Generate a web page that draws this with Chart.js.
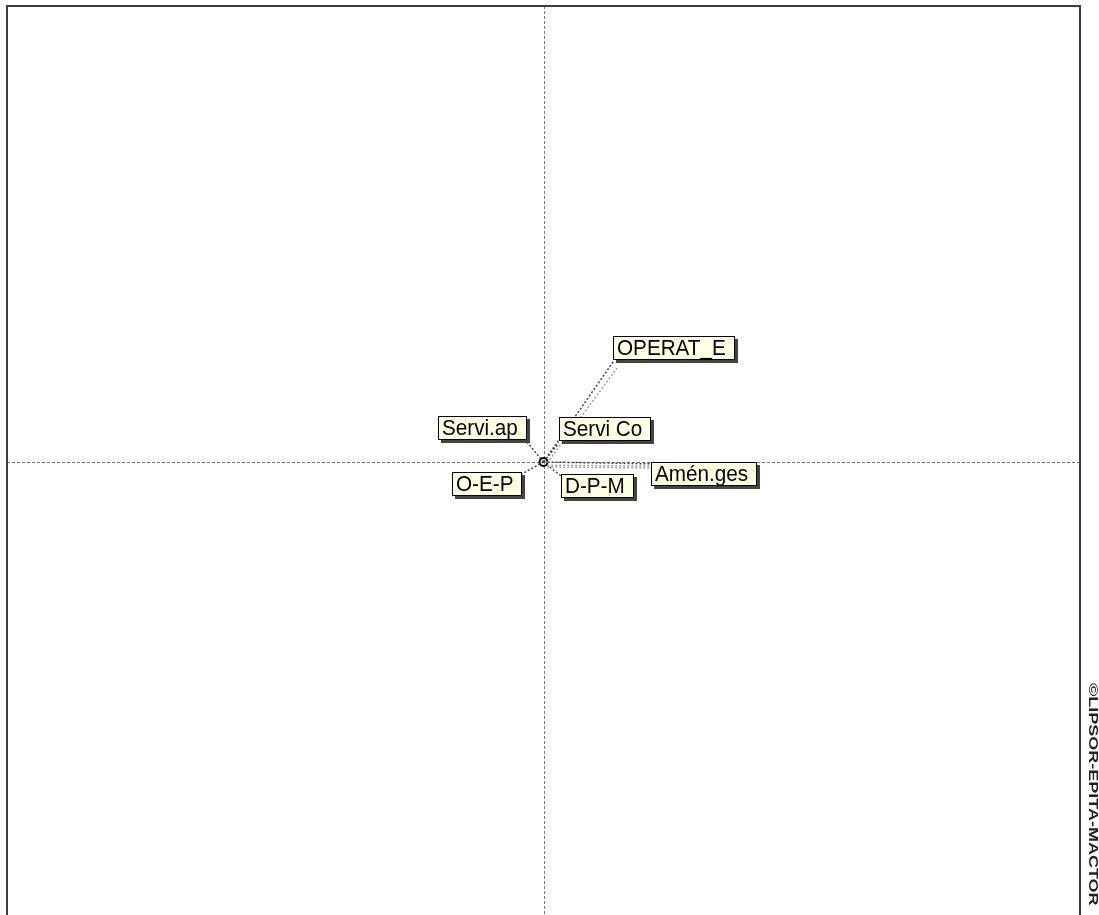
<!DOCTYPE html>
<html>
<head>
<meta charset="utf-8">
<title>Plan des distances entre acteurs</title>
<script src="https://cdn.jsdelivr.net/npm/chart.js@4.4.0/dist/chart.umd.min.js"></script>
<style>
    html, body { margin: 0; padding: 0; background: #fff; overflow: hidden; }
    canvas { display: block; }
</style>
</head>
<body>
<canvas id="mapChart" width="1099" height="930"></canvas>
<script>
// Actors and their coordinates on the map (axes run from -1 to 1)
const actors = ['OPERAT_E', 'Servi.ap', 'Servi Co', 'Amén.ges', 'O-E-P', 'D-P-M'];
const coordX = [0.13, -0.031, 0.029, 0.2, -0.04, 0.033];
const coordY = [0.22, 0.044, 0.042, -0.004, -0.026, -0.031];

// Faint secondary links leaving the centre cluster
const echoStartX = [0.007, 0.007, 0.007];
const echoStartY = [-0.002, -0.007, -0.011];
const echoEndX = [0.137, 0.2, 0.2];
const echoEndY = [0.206, -0.009, -0.013];

const AXIS_MIN = -1;
const AXIS_MAX = 1;
const COPYRIGHT = '\u00A9LIPSOR-EPITA-MACTOR';

const LABEL_FONT = '22px "Liberation Sans", Arial, sans-serif';
const LABEL_SQUEEZE = 0.94;

// Frame, dashed axes and copyright, drawn behind the datasets
const framePlugin = {
    id: 'frame',
    beforeDatasetsDraw(chart) {
        const { ctx, chartArea: a, scales } = chart;
        const x0 = scales.x.getPixelForValue(0);
        const y0 = scales.y.getPixelForValue(0);
        ctx.save();
        ctx.strokeStyle = '#777';
        ctx.lineWidth = 1;
        ctx.setLineDash([3, 2]);
        ctx.beginPath();
        ctx.moveTo(Math.round(x0) + 0.5, a.top);
        ctx.lineTo(Math.round(x0) + 0.5, a.bottom);
        ctx.moveTo(a.left, Math.round(y0) + 0.5);
        ctx.lineTo(a.right, Math.round(y0) + 0.5);
        ctx.stroke();
        ctx.setLineDash([]);
        ctx.strokeStyle = '#3c3c3c';
        ctx.lineWidth = 2;
        ctx.strokeRect(a.left, a.top, a.right - a.left, a.bottom - a.top);

        // vertical copyright in the right margin
        ctx.translate(1092, 683);
        ctx.rotate(Math.PI / 2);
        ctx.scale(1.5, 1);
        ctx.font = 'bold 12px "Liberation Sans", Arial, sans-serif';
        ctx.fillStyle = '#222';
        ctx.textBaseline = 'middle';
        ctx.fillText(COPYRIGHT, 0, 0);
        ctx.restore();
    }
};

// Tooltip-style label boxes placed on the side facing away from the centre
const labelPlugin = {
    id: 'actorLabels',
    afterDatasetsDraw(chart) {
        const { ctx, scales } = chart;
        ctx.save();
        ctx.font = LABEL_FONT;
        ctx.textBaseline = 'alphabetic';
        actors.forEach((name, i) => {
            const px = scales.x.getPixelForValue(coordX[i]);
            const py = scales.y.getPixelForValue(coordY[i]);
            const w = Math.round(ctx.measureText(name).width * LABEL_SQUEEZE) + 13;
            const h = 24;
            const left = Math.round(coordX[i] >= 0 ? px : px - w);
            const top = Math.round(coordY[i] >= 0 ? py - 2 - h : py - 2);
            // shadow
            ctx.fillStyle = '#444';
            ctx.fillRect(left + 3, top + 3, w, h);
            // box
            ctx.fillStyle = '#ffffe1';
            ctx.fillRect(left, top, w, h);
            ctx.strokeStyle = '#000';
            ctx.lineWidth = 1;
            ctx.strokeRect(left + 0.5, top + 0.5, w - 1, h - 1);
            ctx.fillStyle = '#000';
            ctx.save();
            ctx.translate(left + 4, top + h - 5);
            ctx.scale(LABEL_SQUEEZE, 1);
            ctx.fillText(name, 0, 0);
            ctx.restore();
        });
        ctx.restore();
    }
};

const leaderSets = actors.map((name, i) => ({
    label: name,
    data: [{ x: 0, y: 0 }, { x: coordX[i], y: coordY[i] }],
    showLine: true,
    borderColor: '#444',
    borderWidth: 1.5,
    borderDash: [2, 2],
    pointRadius: 0
}));

const echoSets = echoStartX.map((sx, i) => ({
    label: 'lien ' + (i + 1),
    data: [{ x: sx, y: echoStartY[i] }, { x: echoEndX[i], y: echoEndY[i] }],
    showLine: true,
    borderColor: '#a0a0a0',
    borderWidth: 1.5,
    borderDash: [2, 2],
    pointRadius: 0
}));

const centreSet = {
    label: 'centre',
    data: [{ x: 0, y: 0 }],
    pointRadius: 4,
    pointBackgroundColor: '#ffffe1',
    pointBorderColor: '#000',
    pointBorderWidth: 2
};

new Chart(document.getElementById('mapChart'), {
    type: 'scatter',
    data: { datasets: [...echoSets, ...leaderSets, centreSet] },
    options: {
        responsive: false,
        animation: false,
        layout: { padding: { left: 7, right: 19, top: 6, bottom: 12 } },
        plugins: {
            legend: { display: false },
            tooltip: { enabled: false }
        },
        scales: {
            x: { display: false, min: AXIS_MIN, max: AXIS_MAX },
            y: { display: false, min: AXIS_MIN, max: AXIS_MAX }
        }
    },
    plugins: [framePlugin, labelPlugin]
});
</script>
</body>
</html>
